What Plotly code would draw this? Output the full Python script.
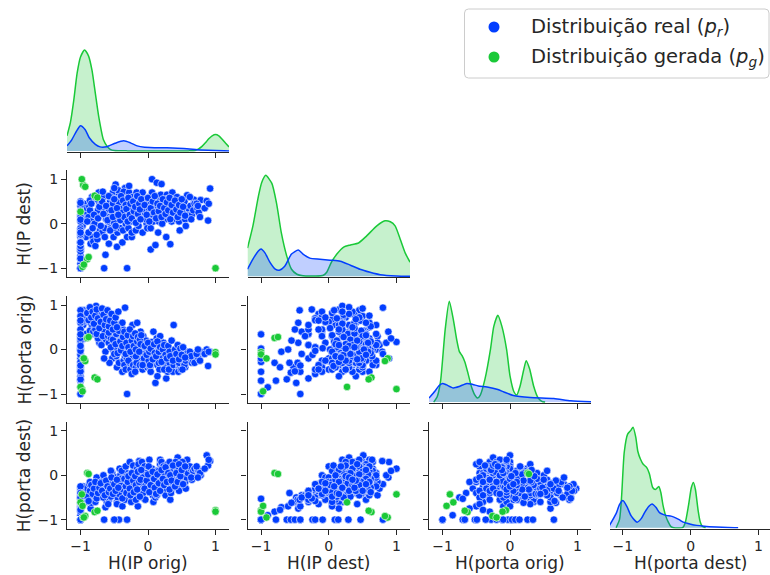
import plotly.graph_objects as go

# ---------------------------------------------------------------------------
# Data: entropy features of the real and generated traffic
# ---------------------------------------------------------------------------
variables = ["H(IP orig)", "H(IP dest)", "H(porta orig)", "H(porta dest)"]
tick_values = [-1, 0, 1]

ip_orig_real = [
    -0.95, -0.93, -0.96, -0.92, -0.94, -0.97,
    -0.87, -0.85, -0.83, -0.88, -0.82, -0.86, -0.84, -0.81,
    -0.78, -0.75, -0.73, -0.77, -0.72, -0.79, -0.74, -0.71, -0.76,
    -0.68, -0.66, -0.63, -0.65, -0.62, -0.69, -0.64, -0.67, -0.61,
    -0.58, -0.56, -0.53, -0.55, -0.52, -0.59, -0.54, -0.57, -0.51, -0.55,
    -0.48, -0.46, -0.44, -0.47, -0.42, -0.45, -0.43, -0.49, -0.41, -0.46, -0.44,
    -0.34, -0.36, -0.33, -0.38, -0.32, -0.35, -0.37, -0.34, -0.39, -0.31, -0.36, -0.33, -0.38,
    -0.27, -0.24, -0.22, -0.28, -0.26, -0.21, -0.29, -0.23, -0.25, -0.22, -0.28, -0.24, -0.26,
    -0.16, -0.13, -0.18, -0.12, -0.15, -0.17, -0.11, -0.14, -0.19, -0.16, -0.12, -0.18, -0.14,
    -0.06, -0.03, -0.08, -0.04, -0.09, -0.02, -0.07, -0.05, -0.01, -0.06, -0.03, -0.08, -0.04,
    0.06, 0.04, 0.03, 0.08, 0.05, 0.02, 0.07, 0.09, 0.04, 0.06, 0.01, 0.08, 0.03,
    0.13, 0.11, 0.16, 0.14, 0.18, 0.12, 0.17, 0.15, 0.19, 0.13, 0.16, 0.14, 0.18,
    0.20, 0.24, 0.27, 0.23, 0.26, 0.22, 0.28, 0.25, 0.29, 0.21, 0.27, 0.24,
    0.33, 0.36, 0.34, 0.38, 0.32, 0.37, 0.35, 0.39, 0.31, 0.36, 0.34, 0.38,
    0.44, 0.46, 0.42, 0.48, 0.45, 0.43, 0.47, 0.41, 0.49, 0.44, 0.46,
    0.53, 0.58, 0.55, 0.52, 0.57, 0.54, 0.56, 0.59, 0.51,
    0.63, 0.68, 0.65, 0.62, 0.67, 0.64, 0.69,
    0.73, 0.78, 0.75, 0.72, 0.77, 0.74,
    0.87, 0.92, 0.89, 0.84, 0.90,
    -1, -1, -1, -1, -1, -1, -1, -1, -1, -1, -1, -1, -1, -1, -1, -1, -1, -1, -1,
    -1, -1, -1, -1, -1, -1, -0.65, -1, -1, -0.50, -1, -0.43, -0.31, -1, -1, -0.50, -1, -1,
    -0.58, -0.55, -0.52, -0.50, -0.48, -0.47, -0.45, -0.43, -0.41, -0.40, -0.38, -0.37, -0.35, -0.33, -0.32,
    -0.30, -0.29, -0.27, -0.26, -0.24, -0.22, -0.21, -0.19, -0.18, -0.16, -0.15, -0.13, -0.12, -0.11, -0.10,
    -0.05, -0.02, 0.00, 0.02, 0.04, 0.07, 0.09, 0.10, 0.12, 0.14, 0.16, 0.18, 0.20, 0.22, 0.24,
    0.26, 0.28, 0.30, 0.32, 0.33, 0.35, 0.37, 0.40, 0.42, 0.44, 0.46, 0.48, 0.50, 0.52, 0.55,
    -0.90, -0.88, -0.86, -0.84, -0.82, -0.80, -0.78, -0.76, -0.74, -0.72, -0.70, -0.68,
    -0.66, -0.64, -0.62, -0.60, -0.58, -0.56, -0.54, -0.52, -0.50, -0.48, -0.46, -0.44,
]

ip_dest_real = [
    0.45, 0.25, 0.10, -0.30, 0.35, -0.05,
    0.38, -0.45, 0.60, 0.15, -0.30, 0.52, 0.05, -0.40,
    -0.50, -0.35, 0.70, 0.20, 0.45, 0.00, 0.30, -0.15, 0.55,
    -0.20, 0.60, -0.70, 0.35, 0.10, 0.45, -0.10, 0.72, 0.20,
    -0.45, 0.50, 0.25, -0.10, 0.70, 0.05, 0.40, 0.15, -0.30, 0.60,
    0.88, -0.52, 0.30, 0.10, 0.55, -0.20, 0.65, 0.20, -0.10, 0.42, 0.75,
    0.80, 0.45, 0.10, -0.42, 0.65, 0.30, -0.15, 0.55, 0.20, -0.30, 0.72, 0.00, 0.38,
    0.50, -0.30, 0.25, 0.70, 0.05, 0.40, -0.10, 0.60, 0.15, 0.35, 0.85, -0.20, 0.30,
    0.60, 0.20, -0.15, 0.45, 0.05, 0.70, 0.30, -0.05, 0.50, 0.35, 0.10, 0.25, 0.55,
    0.15, 0.50, -0.20, 0.35, 0.65, 0.00, 0.40, 0.25, -0.10, 0.55, 0.30, 0.70, 0.10,
    1.00, -0.58, 0.30, 0.45, 0.10, 0.60, 0.20, 0.40, -0.10, 0.70, 0.35, 0.05, 0.50,
    0.92, -0.48, 0.35, 0.15, 0.55, 0.25, 0.45, -0.20, 0.65, 0.30, 0.05, 0.40, 0.20,
    0.89, 0.30, -0.30, 0.50, 0.10, 0.40, 0.65, 0.20, 0.35, 0.00, 0.55, 0.25,
    -0.46, 0.30, 0.50, 0.15, 0.40, 0.60, 0.05, 0.35, 0.25, 0.70, 0.20, 0.45,
    0.30, 0.50, 0.10, 0.40, 0.20, 0.60, -0.15, 0.35, 0.25, 0.45, 0.05,
    0.30, 0.64, 0.10, 0.45, 0.20, 0.50, -0.05, 0.35, 0.25,
    0.40, 0.54, 0.20, 0.60, 0.30, 0.10, 0.45,
    0.35, 0.53, 0.25, 0.45, 0.15, 0.40,
    0.51, 0.79, 0.07, 0.35, 0.45,
    -0.90, -0.43, -0.10, 0.20, -0.30, 0.05, 0.40, -0.60, -0.80, 0.50, -0.15, 0.15, -1, -1, -1, -1, -0.72, -0.55, -0.40,
    -1, -0.78, -0.62, -0.56, -0.50, -0.42, -1, -0.24, -0.20, -0.09, 0.09, 0.14, -1, 0.29, 0.47, 0.80, -1, -0.42,
    0.32, 0.12, 0.45, 0.02, 0.55, 0.28, 0.18, 0.48, 0.08, 0.62, 0.25, 0.52, 0.15, 0.42, 0.33,
    0.05, 0.58, 0.20, 0.45, 0.12, 0.50, 0.28, 0.38, 0.02, 0.62, 0.22, 0.45, 0.32, 0.10, 0.55,
    0.42, 0.20, 0.58, 0.05, 0.35, 0.50, 0.25, 0.62, 0.12, 0.45, 0.28, 0.40, 0.15, 0.55, 0.35,
    0.22, 0.48, 0.30, 0.58, 0.10, 0.42, 0.25, 0.52, 0.32, 0.15, 0.42, 0.25, 0.55, 0.38, 0.18,
    0.05, -0.20, 0.30, 0.45, -0.10, 0.20, 0.60, -0.25, 0.12, 0.38, -0.05, 0.50,
    0.22, -0.30, 0.40, 0.08, 0.62, -0.15, 0.30, 0.15, 0.55, -0.05, 0.35, 0.20,
]

porta_orig_real = [
    0.88, 0.72, 0.55, 0.35, 0.25, 0.62,
    0.78, 0.60, 0.50, 0.90, 0.35, 0.42, 0.68, 0.40,
    0.45, 0.30, 0.55, 0.98, 0.15, 0.62, 0.25, 0.80, 0.35,
    0.70, 0.50, -0.05, 0.85, 0.20, 0.10, 0.40, 0.30, 0.60,
    0.15, 0.75, -0.20, 0.45, 0.00, 0.30, 0.60, -0.30, 0.10, 0.25,
    0.40, -0.40, 0.55, -0.15, 0.20, 0.05, -0.30, 0.70, 0.30, -0.05, 0.10,
    0.94, -0.25, 0.20, -0.50, 0.05, -0.35, 0.45, -0.15, 0.30, -0.20, 0.15, -0.45, 0.60,
    -0.30, 0.10, -0.15, 0.35, -0.45, 0.00, -0.25, 0.55, -0.05, -0.35, 0.15, -0.55, 0.25,
    0.60, -0.20, -0.40, 0.05, -0.10, -0.30, 0.40, 0.15, -0.50, 0.25, -0.35, -0.15, 0.00,
    -0.20, 0.10, -0.45, -0.30, 0.00, -0.25, 0.30, -0.10, -0.40, -0.20, 0.20, -0.35, 0.05,
    0.17, -0.30, -0.40, 0.40, -0.20, -0.15, 0.00, -0.30, -0.50, 0.10, -0.25, -0.05, -0.35,
    0.25, -0.75, -0.20, -0.35, 0.30, -0.10, -0.45, 0.05, -0.25, 0.10, -0.30, -0.60, -0.15,
    -0.20, -0.30, -0.65, 0.15, -0.40, -0.10, -0.35, 0.05, -0.50, -0.20, -0.25, -0.45,
    -0.30, -0.40, -0.15, 0.55, -0.30, -0.50, -0.20, 0.00, -0.45, -0.25, -0.10, -0.35,
    -0.25, -0.40, -0.15, -0.30, -0.50, -0.05, -0.35, -0.20, -0.45, 0.00, -0.30,
    -0.30, -0.15, -0.40, -0.20, -0.10, -0.35, -0.25, -0.05, -0.45,
    -0.20, -0.10, -0.30, -0.05, -0.25, -0.15, -0.30,
    -0.15, -0.05, -0.20, -0.10, -0.25, 0.00,
    0.00, -0.05, -0.37, -0.10, -0.05,
    -0.85, 0.88, 0.75, 0.60, 0.45, 0.30, 0.15, 0.00, -0.30, -0.20, -0.45, -0.60, -0.70, -0.50, 0.02, -0.28, -0.40, 0.20, -0.10,
    -1, -0.70, -0.67, -0.52, -0.49, -0.36, -0.20, -0.12, -0.03, 0.03, 0.08, 0.14, -1, 0.26, 0.65, -0.10, 0.34, -1,
    0.38, 0.05, 0.22, 0.48, 0.12, 0.35, -0.08, 0.42, 0.18, -0.02, 0.08, 0.28, 0.40, -0.10, 0.15,
    0.32, 0.05, 0.45, -0.05, 0.20, 0.30, 0.08, 0.36, 0.00, 0.18, 0.28, -0.05, 0.22, 0.12, 0.32,
    0.08, -0.12, 0.15, -0.05, 0.02, -0.22, 0.12, -0.08, -0.15, 0.18, -0.05, 0.05, -0.28, 0.00, 0.10,
    -0.12, -0.20, 0.08, -0.05, -0.15, 0.20, -0.25, 0.00, -0.10, 0.10, -0.22, 0.02, -0.12, 0.05, -0.18,
    0.82, 0.66, 0.95, 0.72, 0.85, 0.58, 0.76, 0.90, 0.70, 0.48, 0.62, 0.92,
    0.78, 0.55, 0.68, 0.88, 0.52, 0.65, 0.80, 0.45, 0.60, 0.72, 0.50, 0.85,
]

porta_dest_real = [
    -0.45, -0.38, -0.25, -0.60, -0.30, -0.55,
    -0.20, -0.75, -0.35, -0.50, -0.55, -0.15, -0.62, -0.45,
    -0.60, -0.45, -0.10, -0.30, -0.25, -0.40, -0.50, -0.20, -0.05,
    -0.35, 0.00, -0.72, -0.30, -0.55, -0.15, -0.25, -0.45, -0.60,
    -0.55, -0.20, 0.05, -0.40, -0.10, -0.65, -0.30, -0.20, -0.35, 0.10,
    -0.05, -0.60, -0.45, -0.15, 0.15, -0.50, -0.25, -0.35, 0.00, -0.65, -0.30,
    -0.20, -0.10, -0.30, -0.70, 0.05, -0.45, -0.20, -0.55, 0.10, -0.40, -0.15, 0.20, -0.35,
    0.30, -0.55, -0.05, -0.25, -0.35, 0.10, -0.15, -0.45, -0.60, 0.22, 0.00, -0.30, -0.20,
    -0.20, 0.32, -0.45, -0.10, -0.70, 0.05, -0.30, -0.05, -0.40, 0.15, -0.25, -0.55, 0.25,
    -0.35, 0.10, -0.50, -0.15, 0.30, -0.05, -0.40, 0.20, -0.25, -0.20, 0.05, -0.05, -0.55,
    0.15, -0.40, -0.10, 0.05, -0.30, 0.35, -0.45, -0.20, -0.15, -0.05, 0.20, -0.60, -0.25,
    0.10, -0.50, -0.05, -0.30, 0.25, 0.00, -0.35, -0.20, 0.15, -0.45, 0.10, -0.15, 0.35,
    0.30, -0.10, -0.40, 0.20, -0.45, 0.00, 0.10, -0.25, 0.25, -0.15, -0.30, 0.05,
    -0.55, 0.05, -0.20, 0.10, 0.30, -0.10, -0.30, 0.20, -0.05, 0.00, -0.40, 0.15,
    0.40, 0.00, -0.20, 0.20, -0.10, 0.10, -0.30, 0.30, -0.05, 0.15, -0.35,
    0.10, 0.35, -0.15, 0.25, -0.05, 0.15, -0.30, 0.05, 0.30,
    0.15, 0.05, -0.10, 0.20, 0.10, -0.05, 0.15,
    0.15, 0.00, 0.10, 0.20, 0.05, -0.05,
    0.45, 0.32, 0.22, 0.15, 0.35,
    -0.90, -0.55, -0.45, -0.50, -0.35, -0.30, -0.25, -0.70, -0.82, -0.40, -0.65, -0.75, -0.53, -1, -1, -1, -0.78, -0.62, -0.50,
    -1, -1, -1, -1, -1, -1, -1, -1, -1, -1, -1, -1, -1, -1, -1, -1, -1, -1,
    -0.42, -0.48, -0.28, -0.38, -0.12, -0.22, -0.32, -0.42, -0.18, -0.08, -0.52, -0.32, -0.08, -0.25, -0.40,
    -0.15, -0.02, -0.30, -0.45, 0.05, -0.12, -0.38, -0.02, -0.22, -0.32, 0.08, -0.15, -0.48, -0.10, 0.12,
    -0.30, -0.12, 0.02, -0.38, -0.22, 0.08, -0.08, -0.28, -0.42, 0.02, -0.18, -0.35, 0.12, -0.08, -0.22,
    0.18, -0.15, 0.05, -0.32, 0.00, -0.12, 0.22, -0.25, 0.05, -0.15, 0.25, -0.02, 0.12, -0.20, 0.20,
    -0.48, -0.58, -0.35, -0.22, -0.42, -0.30, -0.15, -0.52, -0.40, -0.28, -0.18, -0.35,
    -0.50, -0.45, -0.12, -0.25, -0.38, -0.30, -0.05, -0.42, -0.20, -0.35, -0.10, -0.28,
]

ip_orig_gen = [1.00, 1.00, -0.90, -0.88, -0.79, -0.75, -0.96, -0.93, -0.98, -1.00, -0.97, -0.95]
ip_dest_gen = [-1.00, -1.00, -0.80, -0.75, 0.63, 0.59, 0.87, 0.83, 1.00, 0.27, -0.97, -0.92]
porta_orig_gen = [-0.06, -0.11, 0.26, 0.28, -0.63, -0.67, -0.20, -0.26, -0.89, -0.84, -0.94, -0.20]
porta_dest_gen = [-0.79, -0.82, 0.05, 0.03, -0.83, -0.80, -0.95, -0.92, -0.43, -0.61, -0.69, -0.95]

# Kernel density estimates on the diagonal (scaled so the tallest peak is 1)
kde_ip_orig_real_x = [-1.2, -1.13, -1.06, -1.0, -0.93, -0.87, -0.78, -0.71, -0.61, -0.49, -0.36,
                      -0.26, -0.16, -0.05, 0.28, 0.53, 0.78, 1.0, 1.2]
kde_ip_orig_real_y = [0.05, 0.11, 0.195, 0.25, 0.21, 0.13, 0.065, 0.04, 0.042, 0.075, 0.1,
                      0.08, 0.05, 0.037, 0.03, 0.023, 0.01, 0.003, 0.0]
kde_ip_orig_gen_x = [-1.2, -1.15, -1.1, -1.05, -1.0, -0.94, -0.88, -0.83, -0.78, -0.73, -0.66,
                     -0.6, -0.56, -0.5, -0.3, 0.0, 0.3, 0.6, 0.7, 0.75, 0.8, 0.85, 0.9, 0.95,
                     1.0, 1.05, 1.1, 1.15, 1.2]
kde_ip_orig_gen_y = [0.15, 0.28, 0.5, 0.77, 0.93, 1.0, 0.94, 0.8, 0.57, 0.34, 0.11,
                     0.04, 0.016, 0.004, 0.0, 0.0, 0.0, 0.0, 0.004, 0.02, 0.045, 0.08, 0.12, 0.15,
                     0.163, 0.15, 0.115, 0.075, 0.04]

kde_ip_dest_real_x = [-1.2, -1.12, -1.04, -1.0, -0.94, -0.87, -0.79, -0.73, -0.65, -0.55, -0.45,
                      -0.38, -0.28, -0.13, 0.02, 0.17, 0.32, 0.46, 0.61, 0.76, 1.0, 1.2]
kde_ip_dest_real_y = [0.07, 0.17, 0.25, 0.27, 0.23, 0.14, 0.07, 0.06, 0.1, 0.22, 0.26,
                      0.22, 0.18, 0.17, 0.16, 0.15, 0.11, 0.07, 0.04, 0.016, 0.003, 0.0]
kde_ip_dest_gen_x = [-1.2, -1.12, -1.04, -0.99, -0.93, -0.84, -0.77, -0.7, -0.62, -0.55, -0.47,
                     -0.38, -0.2, -0.08, -0.03, 0.04, 0.12, 0.22, 0.32, 0.44, 0.56, 0.71, 0.83,
                     0.91, 0.98, 1.06, 1.13, 1.2]
kde_ip_dest_gen_y = [0.28, 0.5, 0.79, 0.93, 1.0, 0.92, 0.72, 0.43, 0.2, 0.07, 0.02,
                     0.005, 0.003, 0.01, 0.04, 0.14, 0.22, 0.29, 0.31, 0.33, 0.4, 0.5, 0.55,
                     0.54, 0.5, 0.36, 0.23, 0.14]

kde_porta_orig_real_x = [-1.2, -1.11, -1.05, -1.0, -0.94, -0.84, -0.75, -0.64, -0.55, -0.47,
                         -0.34, -0.18, -0.09, 0.05, 0.3, 0.65, 0.9, 1.2]
kde_porta_orig_real_y = [0.04, 0.11, 0.165, 0.185, 0.17, 0.14, 0.155, 0.185, 0.175, 0.16,
                         0.15, 0.125, 0.1, 0.065, 0.045, 0.035, 0.013, 0.003]
kde_porta_orig_gen_x = [-1.13, -1.08, -1.03, -0.96, -0.9, -0.84, -0.79, -0.75, -0.71, -0.67,
                        -0.62, -0.57, -0.52, -0.48, -0.44, -0.37, -0.29, -0.24, -0.18, -0.12,
                        -0.05, 0.0, 0.06, 0.1, 0.15, 0.2, 0.24, 0.29, 0.35, 0.41, 0.47, 0.52]
kde_porta_orig_gen_y = [0.0, 0.05, 0.2, 0.72, 1.0, 0.82, 0.62, 0.5, 0.46, 0.4,
                        0.28, 0.15, 0.07, 0.04, 0.07, 0.23, 0.52, 0.75, 0.86, 0.75,
                        0.52, 0.26, 0.1, 0.07, 0.16, 0.31, 0.41, 0.33, 0.16, 0.05, 0.007, 0.0]

kde_porta_dest_real_x = [-1.2, -1.1, -1.05, -1.0, -0.94, -0.88, -0.79, -0.73, -0.68, -0.62,
                         -0.57, -0.51, -0.46, -0.4, -0.35, -0.29, -0.23, -0.17, -0.11, 0.0,
                         0.09, 0.2, 0.38, 0.55, 0.7]
kde_porta_dest_real_y = [0.02, 0.14, 0.23, 0.27, 0.21, 0.12, 0.055, 0.09, 0.15, 0.21,
                         0.235, 0.2, 0.15, 0.13, 0.12, 0.115, 0.1, 0.08, 0.055, 0.035,
                         0.023, 0.015, 0.007, 0.002, 0.0]
kde_porta_dest_gen_x = [-1.1, -1.05, -1.02, -0.98, -0.93, -0.88, -0.85, -0.81, -0.78, -0.74,
                        -0.7, -0.65, -0.61, -0.56, -0.52, -0.47, -0.44, -0.41, -0.37, -0.33,
                        -0.29, -0.25, -0.12, -0.08, -0.03, 0.01, 0.04, 0.07, 0.11, 0.14, 0.17, 0.22]
kde_porta_dest_gen_y = [0.0, 0.08, 0.3, 0.75, 0.93, 0.97, 1.0, 0.9, 0.76, 0.68,
                        0.63, 0.6, 0.54, 0.4, 0.38, 0.41, 0.35, 0.23, 0.12, 0.055,
                        0.01, 0.0, 0.0, 0.05, 0.23, 0.4, 0.45, 0.38, 0.17, 0.06, 0.015, 0.0]

legend_labels = ["Distribuição real (<i>p</i><sub><i>r</i></sub>)",
                 "Distribuição gerada (<i>p</i><sub><i>g</i></sub>)"]

# ---------------------------------------------------------------------------
real = [ip_orig_real, ip_dest_real, porta_orig_real, porta_dest_real]
gen = [ip_orig_gen, ip_dest_gen, porta_orig_gen, porta_dest_gen]
for col in real[1:]:
    assert len(col) == len(real[0]), len(col)
kde_real = [(kde_ip_orig_real_x, kde_ip_orig_real_y), (kde_ip_dest_real_x, kde_ip_dest_real_y),
            (kde_porta_orig_real_x, kde_porta_orig_real_y), (kde_porta_dest_real_x, kde_porta_dest_real_y)]
kde_gen = [(kde_ip_orig_gen_x, kde_ip_orig_gen_y), (kde_ip_dest_gen_x, kde_ip_dest_gen_y),
           (kde_porta_orig_gen_x, kde_porta_orig_gen_y), (kde_porta_dest_gen_x, kde_porta_dest_gen_y)]

BLUE, GREEN = "#023eff", "#1ac938"
BLUE_FILL, GREEN_FILL = "rgba(2,62,255,0.25)", "rgba(26,201,56,0.25)"
INK = "#262626"
FONT = "DejaVu Sans"
W, H = 770, 575


def fx(px):
    return px / W


def fy(px):
    return 1 - px / H


# panel geometry in pixels
col_px = [(67.0, 229.0), (247.5, 410.0), (429.0, 591.0), (610.0, 770.0)]
col_range = [[-1.2, 1.2], [-1.2, 1.2], [-1.2, 1.2], [-1.19, 1.17]]
col_center = [148.0, 328.7, 509.7, 690.7]
row_px = [(45.0, 151.7), (170.3, 277.1), (296.1, 402.9), (422.1, 528.5)]

fig = go.Figure()
layout_axes = {}
k = 0
for i in range(4):
    for j in range(i + 1):
        k += 1
        xr = "x" if k == 1 else f"x{k}"
        yr = "y" if k == 1 else f"y{k}"
        diag = i == j
        common = dict(showline=True, linecolor=INK, linewidth=1.25, ticks="outside",
                      ticklen=5, tickwidth=1.25, tickcolor=INK, tickvals=tick_values,
                      tickfont=dict(family=FONT, size=14, color=INK),
                      showgrid=False, zeroline=False, fixedrange=True)
        layout_axes["xaxis" if k == 1 else f"xaxis{k}"] = dict(
            domain=[fx(col_px[j][0]), fx(col_px[j][1])], range=col_range[j],
            anchor=yr, showticklabels=(i == 3),
            layer="below traces" if diag else "above traces", **common)
        ydom = [fy(row_px[i][1]), fy(row_px[i][0])]
        if diag:
            layout_axes["yaxis" if k == 1 else f"yaxis{k}"] = dict(
                domain=ydom, range=[-0.008, 1.05], anchor=xr, visible=False, fixedrange=True)
            for (kx, ky), color, fill in ((kde_gen[i], GREEN, GREEN_FILL),
                                          (kde_real[i], BLUE, BLUE_FILL)):
                fig.add_trace(go.Scatter(
                    x=kx, y=ky, xaxis=xr, yaxis=yr, mode="lines",
                    line=dict(color=color, width=1.5, shape="spline", smoothing=0.6),
                    fill="tozeroy", fillcolor=fill, hoverinfo="skip", showlegend=False))
        else:
            layout_axes["yaxis" if k == 1 else f"yaxis{k}"] = dict(
                domain=ydom, range=[-1.2, 1.2], anchor=xr, showticklabels=(j == 0), **common)
            for data, color in ((real, BLUE), (gen, GREEN)):
                fig.add_trace(go.Scatter(
                    x=data[j], y=data[i], xaxis=xr, yaxis=yr, mode="markers",
                    marker=dict(size=7.5, color=color, line=dict(width=0.6, color="white")),
                    showlegend=False))

annotations = []
for j, name in enumerate(variables):
    annotations.append(dict(text=name, xref="paper", yref="paper",
                            x=fx(col_center[j]), y=fy(563), xanchor="center", yanchor="middle",
                            showarrow=False, font=dict(family=FONT, size=17, color=INK)))
for i in range(1, 4):
    annotations.append(dict(text=variables[i], xref="paper", yref="paper",
                            x=fx(24), y=fy((row_px[i][0] + row_px[i][1]) / 2),
                            xanchor="center", yanchor="middle", textangle=-90, showarrow=False,
                            font=dict(family=FONT, size=17, color=INK)))

# legend box with two entries
L, T, R, B, rad = 464.5, 9.0, 769.0, 78.0, 4.0
path = (f"M {fx(L + rad)},{fy(T)} L {fx(R - rad)},{fy(T)} Q {fx(R)},{fy(T)} {fx(R)},{fy(T + rad)} "
        f"L {fx(R)},{fy(B - rad)} Q {fx(R)},{fy(B)} {fx(R - rad)},{fy(B)} "
        f"L {fx(L + rad)},{fy(B)} Q {fx(L)},{fy(B)} {fx(L)},{fy(B - rad)} "
        f"L {fx(L)},{fy(T + rad)} Q {fx(L)},{fy(T)} {fx(L + rad)},{fy(T)} Z")
shapes = [dict(type="path", path=path, xref="paper", yref="paper",
               line=dict(color="#cccccc", width=1), fillcolor="rgba(255,255,255,0.8)")]
for row_y, color, label in ((27, BLUE, legend_labels[0]), (57, GREEN, legend_labels[1])):
    r = 5.5
    shapes.append(dict(type="circle", xref="paper", yref="paper",
                       x0=fx(494 - r), x1=fx(494 + r), y0=fy(row_y + r), y1=fy(row_y - r),
                       fillcolor=color, line=dict(width=0)))
    annotations.append(dict(text=label, xref="paper", yref="paper", x=fx(529), y=fy(row_y),
                            xanchor="left", yanchor="middle", showarrow=False,
                            font=dict(family=FONT, size=19.5, color=INK)))

fig.update_layout(width=W, height=H, margin=dict(l=0, r=0, t=0, b=0),
                  paper_bgcolor="white", plot_bgcolor="white", showlegend=False,
                  font=dict(family=FONT, color=INK),
                  annotations=annotations, shapes=shapes, **layout_axes)

fig.write_html("out.html")
